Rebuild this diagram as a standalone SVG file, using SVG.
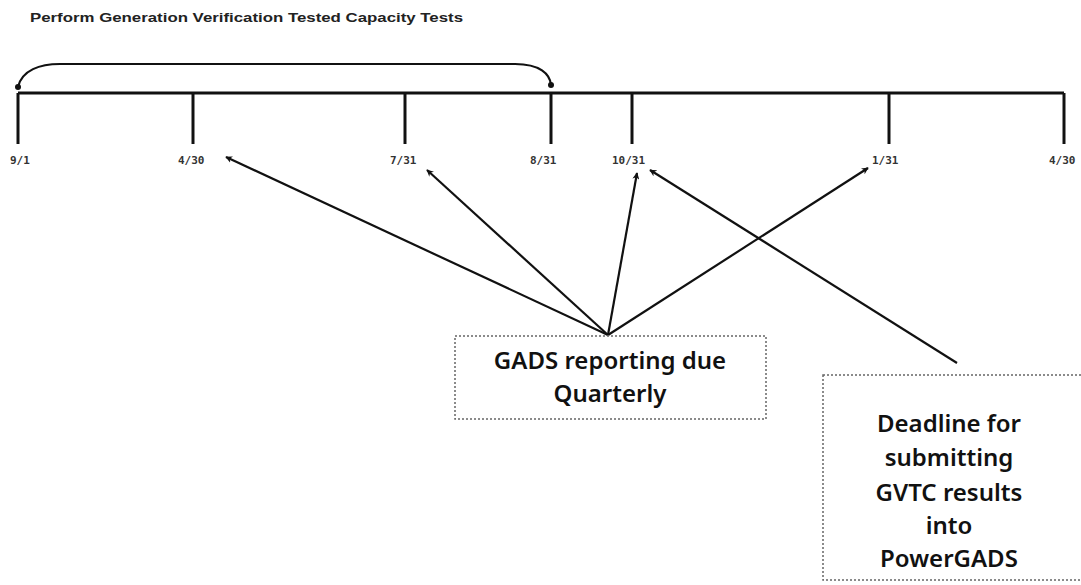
<svg xmlns="http://www.w3.org/2000/svg" width="1081" height="585" viewBox="0 0 1081 585">
<defs>
<style>
.tl{stroke:#111;stroke-width:3;fill:none}
.conn{stroke:#111;stroke-width:2.2;fill:none}
.box{fill:#fff;stroke:#666;stroke-width:1.5;stroke-dasharray:2 2}
.date{font-family:"DejaVu Sans Mono","Liberation Mono",monospace;font-weight:bold;font-size:11px;fill:#333}
.lbl{font-family:"Noto Sans","Liberation Sans",sans-serif;font-weight:600;font-size:24px;fill:#111;text-anchor:middle}
.title{font-family:"Liberation Sans",sans-serif;font-weight:bold;font-size:12px;fill:#222}
</style>
<marker id="ah" viewBox="0 0 10 10" refX="9" refY="5" markerWidth="7" markerHeight="7" markerUnits="userSpaceOnUse" orient="auto-start-reverse">
<path d="M0,0 L10,5 L0,10 L3,5 Z" fill="#111"/>
</marker>
</defs>
<rect width="1081" height="585" fill="#fff"/>
<text class="title" x="30" y="22" textLength="433" lengthAdjust="spacingAndGlyphs">Perform Generation Verification Tested Capacity Tests</text>
<g id="timeline">
<line class="tl" x1="18" y1="93" x2="1064" y2="93"/>
<line class="tl" x1="18" y1="93" x2="18" y2="144"/>
<line class="tl" x1="193" y1="93" x2="193" y2="144"/>
<line class="tl" x1="405" y1="93" x2="405" y2="144"/>
<line class="tl" x1="551" y1="93" x2="551" y2="144"/>
<line class="tl" x1="632" y1="93" x2="632" y2="144"/>
<line class="tl" x1="889" y1="93" x2="889" y2="144"/>
<line class="tl" x1="1064" y1="93" x2="1064" y2="144"/>
<text class="date" x="10" y="164">9/1</text>
<text class="date" x="178" y="164">4/30</text>
<text class="date" x="390" y="164">7/31</text>
<text class="date" x="530" y="164">8/31</text>
<text class="date" x="612" y="164">10/31</text>
<text class="date" x="872" y="164">1/31</text>
<text class="date" x="1049" y="164">4/30</text>
</g>
<g id="bracket">
<path class="conn" d="M18,87 C22,70 40,64 60,64 L515,64 C540,64 550,74 551,85"/>
<circle cx="18" cy="87" r="3" fill="#111"/>
<circle cx="551" cy="85" r="3" fill="#111"/>
</g>
<g id="connectors">
<line class="conn" x1="608" y1="335" x2="226" y2="157" marker-end="url(#ah)"/>
<line class="conn" x1="608" y1="335" x2="427" y2="170" marker-end="url(#ah)"/>
<line class="conn" x1="608" y1="335" x2="637" y2="173" marker-end="url(#ah)"/>
<line class="conn" x1="608" y1="335" x2="868" y2="168" marker-end="url(#ah)"/>
<line class="conn" x1="957" y1="363" x2="650" y2="170" marker-end="url(#ah)"/>
</g>
<g id="gads">
<rect class="box" x="455" y="336" width="311" height="83"/>
<text class="lbl" x="610" y="369">GADS reporting due</text>
<text class="lbl" x="610" y="402">Quarterly</text>
</g>
<g id="deadline">
<rect class="box" x="823" y="375" width="270" height="205"/>
<text class="lbl" x="949" y="432">Deadline for</text>
<text class="lbl" x="949" y="466">submitting</text>
<text class="lbl" x="949" y="501">GVTC results</text>
<text class="lbl" x="949" y="534">into</text>
<text class="lbl" x="949" y="567">PowerGADS</text>
</g>
</svg>
